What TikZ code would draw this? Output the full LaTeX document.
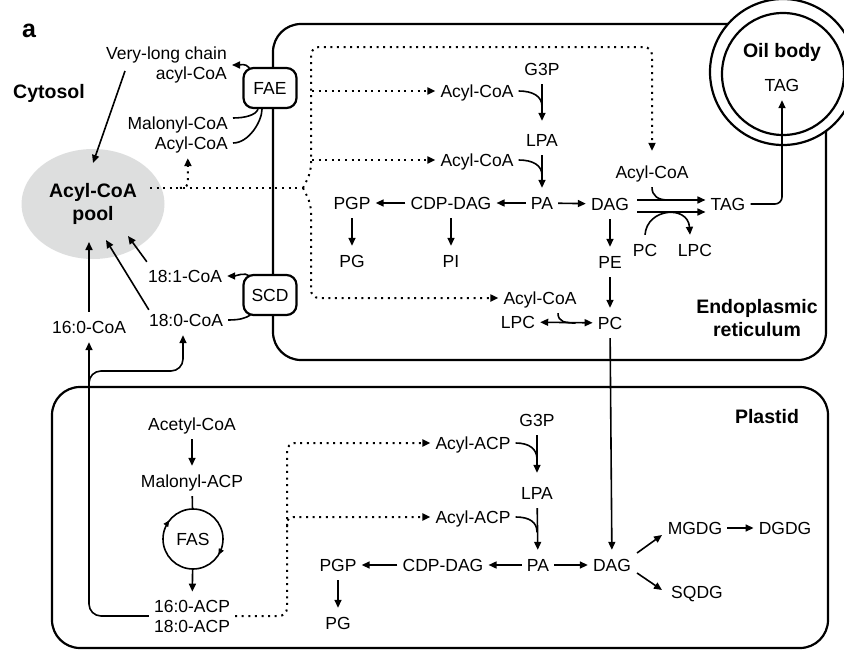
\documentclass[tikz,border=0pt]{standalone}
\usepackage{fontspec}
\setmainfont{Liberation Sans}
\usetikzlibrary{arrows.meta,shapes.geometric,calc}
\definecolor{poolgray}{RGB}{221,222,222}
\begin{document}
\begin{tikzpicture}[x=1pt,y=-1pt,
  lab/.style={font=\fontsize{17.5}{20}\selectfont, inner xsep=5pt, inner ysep=9pt, text height=12pt, text depth=0pt},
  labtwo/.style={font=\fontsize{17.5}{20}\selectfont, inner xsep=5pt, inner ysep=5pt, align=center},
  boldlab/.style={font=\fontsize{19.5}{23}\selectfont\bfseries, inner sep=2pt, text height=14pt, text depth=0pt},
  boldtwo/.style={font=\fontsize{19.5}{23}\selectfont\bfseries, inner sep=2pt, align=center},
  enz/.style={draw, line width=2.2pt, rounded corners=10pt, fill=white, minimum width=53pt, minimum height=40pt, inner sep=0pt, font=\fontsize{17.5}{20}\selectfont},
  memb/.style={line width=2.2pt},
  ln/.style={line width=1.6pt},
  arr/.style={line width=1.6pt, -{Triangle[length=8pt,width=7pt]}},
  darr/.style={line width=1.6pt, {Triangle[length=8pt,width=7pt]}-{Triangle[length=8pt,width=7pt]}},
  cyctip/.style={line width=0.8pt, -{Triangle[length=6pt,width=5.5pt]}},
  dotln/.style={line width=2pt, dash pattern=on 2pt off 4.6pt},
  darrow/.style={dotln, -{Triangle[length=8pt,width=7pt]}},
]
\useasboundingbox (0,0) rectangle (844,653);
\clip (0,0) rectangle (844,653);

% membranes
\draw[memb, rounded corners=28pt] (826,131) -- (826,360) -- (273,360) -- (273,24) -- (728,24);
\draw[memb] (783,72) circle (73);
\draw[memb] (783,74) circle (61);
\draw[memb, rounded corners=28pt] (52,387) rectangle (828,648);

% pool
\node[ellipse, fill=poolgray, minimum width=143pt, minimum height=110pt, inner sep=0pt, boldtwo] (pool) at (93,204) {Acyl-CoA\\pool};

% cytosol labels
\node[font=\fontsize{25}{28}\selectfont\bfseries, inner sep=0pt] (lbla) at (29,31) {a};
\node[boldlab] (cyt) at (49,91) {Cytosol};
\node[labtwo, anchor=east, align=right] (vlc) at (232,65) {Very-long chain\\acyl-CoA};
\node[lab, anchor=east] (malcoa) at (233,123) {Malonyl-CoA};
\node[lab, anchor=east] (acoaC) at (233,143) {Acyl-CoA};
\node[lab] (c181) at (185,276) {18:1-CoA};
\node[lab] (c180) at (186,320) {18:0-CoA};
\node[lab] (c160) at (89,327) {16:0-CoA};

% ER labels
\node[lab] (G3Pe) at (542,69) {G3P};
\node[lab] (Ae1) at (477,91) {Acyl-CoA};
\node[lab] (LPAe) at (542,140) {LPA};
\node[lab] (Ae2) at (477,160) {Acyl-CoA};
\node[lab] (PGPe) at (352,203) {PGP};
\node[lab] (CDPe) at (451,203) {CDP-DAG};
\node[lab] (PAe) at (542,203) {PA};
\node[lab] (DAGe) at (610,204) {DAG};
\node[lab] (TAGe) at (728,204) {TAG};
\node[lab] (Ae3) at (652,172) {Acyl-CoA};
\node[lab] (PCt) at (645,250) {PC};
\node[lab] (LPCt) at (695,250) {LPC};
\node[lab] (PGe) at (352,261) {PG};
\node[lab] (PIe) at (451,261) {PI};
\node[lab] (PEe) at (610,262) {PE};
\node[lab] (Ae4) at (540,298) {Acyl-CoA};
\node[lab] (LPCe) at (518,322) {LPC};
\node[lab] (PCe) at (610,323) {PC};
\node[boldlab] (oil) at (782,50) {Oil body};
\node[lab] (TAGo) at (782,85) {TAG};
\node[boldtwo] (erl) at (757,318) {Endoplasmic\\reticulum};

% plastid labels
\node[boldlab] (pll) at (767,416) {Plastid};
\node[lab] (acet) at (192,424) {Acetyl-CoA};
\node[lab] (malacp) at (192,481) {Malonyl-ACP};
\node[circle, minimum size=60pt, inner sep=0pt, font=\fontsize{17.5}{20}\selectfont] (fas) at (193,539) {FAS};
\node[labtwo, inner ysep=8pt] (acp) at (192,616) {16:0-ACP\\18:0-ACP};
\node[lab] (AA1) at (473,443) {Acyl-ACP};
\node[lab] (AA2) at (473,517) {Acyl-ACP};
\node[lab] (G3Pp) at (537,420) {G3P};
\node[lab] (LPAp) at (537,493) {LPA};
\node[lab] (PAp) at (538,565) {PA};
\node[lab] (CDPp) at (443,565) {CDP-DAG};
\node[lab] (PGPp) at (338,565) {PGP};
\node[lab] (PGp) at (338,623) {PG};
\node[lab] (DAGp) at (612,565) {DAG};
\node[lab] (MGDG) at (695,528) {MGDG};
\node[lab] (DGDG) at (785,528) {DGDG};
\node[lab] (SQDG) at (697,592) {SQDG};

% enzymes
\node[enz] (fae) at (270,88) {FAE};
\node[enz] (scd) at (270,295) {SCD};

% coordinates
\coordinate (vlcfoot) at (125,71);
\coordinate (jn) at (303,188);
\coordinate (br) at (89,395);

% cytosol connectors
\draw[arr] (vlcfoot) -- ($(pool.center)+(0,-41)$);
\draw[arr] (c160.north) -- ($(pool.center)+(-4,38)$);
\draw[arr] ($(c180.north west)+(5,5)$) -- ($(pool.center)+(13,36)$);
\draw[arr] ($(c181.north west)+(4,1)$) -- ($(pool.center)+(35,32)$);
\draw[arr] ($(fae.north west)+(7,1)$) .. controls +(-4,-5) and +(8,0) .. (vlc.east);
\draw[ln] ($(malcoa.east)+(0,-5)$) .. controls +(12,0) and +(-2,6) .. ($(fae.south)+(-12,0)$);
\draw[ln] (acoaC.east) .. controls +(16,0) and +(0,12) .. ($(fae.south)+(-8,0)$);
\draw[arr] ($(scd.north west)+(7,2)$) .. controls +(-4,-4) and +(8,0) .. (c181.east);
\draw[ln] (c180.east) .. controls +(12,0) and +(-5,3) .. ($(scd.south west)+(8,-1)$);
\draw[arr, rounded corners=12pt] (acp.west) -| (c160.south);
\draw[arr, rounded corners=12pt] (br) -- (89,371) -- (183,371) -- ($(c180.south)+(-3,0)$);

% dotted acyl-CoA export
\draw[dotln] ($(pool.center)+(57,-16)$) -- (jn);
\draw[darrow, rounded corners=8pt, shorten >=6pt] (jn) -- (311,172) -- (311,47) -- (652,47) -- (Ae3.north);
\draw[darrow, rounded corners=8pt] (jn) -- (311,204) -- (311,298) -- (Ae4.west);
\draw[darrow] (312,91) -- (Ae1.west);
\draw[darrow] (312,160) -- (Ae2.west);
\draw[darrow] (180,188) .. controls (186,188) and (188,186) .. (188,180) -- ($(acoaC.south)+(-3.5,0)$);

% ER reactions
\draw[arr, shorten >=4pt] (G3Pe) -- (LPAe);
\draw[ln] (Ae1.east) .. controls +(14,0) and +(0,-10) .. ($(G3Pe.south)+(0,22)$);
\draw[arr] (LPAe) -- (PAe);
\draw[ln] (Ae2.east) .. controls +(14,0) and +(0,-10) .. ($(LPAe.south)+(0,20)$);
\draw[arr] (PAe) -- (CDPe);
\draw[arr] (CDPe) -- (PGPe);
\draw[arr] (PAe) -- (DAGe);
\draw[arr] (PGPe) -- (PGe);
\draw[arr] (CDPe) -- (PIe);
\draw[arr] (DAGe) -- (PEe);
\draw[arr] (PEe) -- (PCe);
\draw[arr] ($(DAGe.east)+(3,-4)$) -- ($(TAGe.west)+(0,-4)$);
\draw[arr] ($(DAGe.east)+(3,8)$) -- ($(TAGe.west)+(0,8)$);
\draw[ln] (Ae3.south) .. controls +(0,9) and +(-10,0) .. ($(DAGe.east)+(34,-4)$);
\draw[arr] (PCt.north) .. controls +(2,-27) and +(-2,-30) .. ($(LPCt.north)+(-5,0)$);
\draw[arr, rounded corners=7pt] (TAGe.east) -| (TAGo.south);
\draw[darr] (LPCe) -- (PCe);
\draw[ln] ($(Ae4.south)+(18,0)$) .. controls +(0,9) and +(-10,0) .. ($(PCe.west)+(-17,0)$);
\draw[arr] (PCe) -- (DAGp);

% plastid reactions
\draw[arr] (acet) -- (malacp);
\draw[ln] (malacp) -- (fas);
\draw[ln] (fas.center) circle (30);
\draw[cyctip] ($(fas.center)+(-27,-13.8)$) -- ($(fas.center)+(-23.8,-18.5)$);
\draw[cyctip] ($(fas.center)+(28.3,10.5)$) -- ($(fas.center)+(25.6,15.8)$);
\draw[arr] (fas) -- (acp);
\draw[darrow, rounded corners=8pt] (acp.east) -| (287,443) -- (AA1.west);
\draw[darrow, rounded corners=6pt] (287,527) -- (287,517) -- (AA2.west);
\draw[arr, shorten >=5pt] (G3Pp) -- (LPAp);
\draw[ln] (AA1.east) .. controls +(14,0) and +(0,-10) .. ($(G3Pp.south)+(0,24)$);
\draw[arr] (LPAp) -- (PAp);
\draw[ln] (AA2.east) .. controls +(14,0) and +(0,-10) .. ($(LPAp.south)+(0,24)$);
\draw[arr] (PAp) -- (CDPp);
\draw[arr] (CDPp) -- (PGPp);
\draw[arr] (PGPp) -- (PGp);
\draw[arr] (PAp) -- (DAGp);
\draw[arr] ($(DAGp.center)+(25,-12)$) -- ($(MGDG.center)+(-33,7)$);
\draw[arr] ($(DAGp.center)+(25,8)$) -- ($(SQDG.center)+(-35,-2)$);
\draw[arr] (MGDG) -- (DGDG);
\end{tikzpicture}
\end{document}
